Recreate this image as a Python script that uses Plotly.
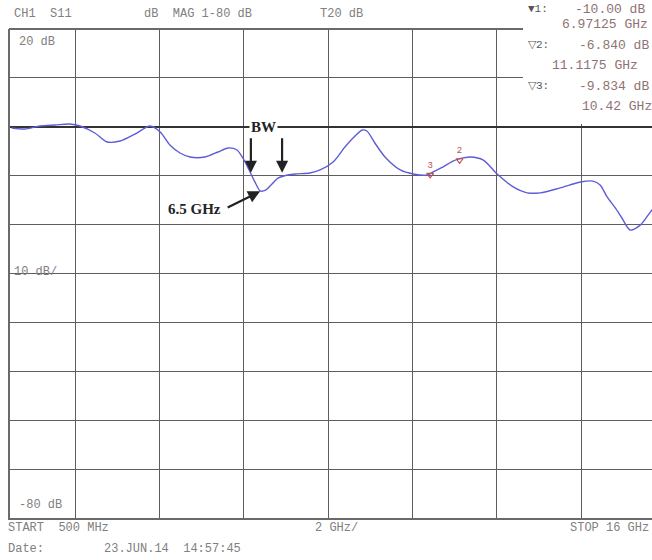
import plotly.graph_objects as go

# ---- data ----
freq_ghz = [0.5, 0.81, 1.17, 1.53, 1.88, 2.12, 2.47, 2.76, 3.07, 3.42, 3.78, 4.02, 4.25, 4.49,
            4.73, 5.08, 5.39, 5.63, 5.84, 5.98, 6.15, 6.29, 6.39, 6.53, 6.67, 6.81, 6.97,
            7.22, 7.57, 7.81, 8.12, 8.40, 8.64, 8.81, 8.92, 9.11, 9.35, 9.71, 10.02, 10.35,
            10.49, 10.73, 10.96, 11.13, 11.37, 11.68, 12.01, 12.39, 12.72, 13.03, 13.50,
            13.98, 14.28, 14.45, 14.62, 14.81, 14.97, 15.16, 15.40, 15.68, 16.0]
s11_db = [-0.25, -0.45, 0.16, 0.37, 0.57, 0.16, -1.27, -3.1, -2.9, -1.5, 0.16, -1.06, -3.72, -5.36,
          -6.18, -6.18, -5.15, -4.33, -4.74, -6.38, -9.24, -11.7, -13.1, -12.9, -11.7, -10.5, -10.0,
          -9.65, -9.45, -8.83, -7.2, -4.13, -1.88, -0.65, -0.86, -3.31, -6.18, -8.83, -9.65, -9.86,
          -9.24, -8.2, -7.0, -6.5, -6.18, -6.8, -9.65, -12.3, -13.5, -13.5, -12.5,
          -11.3, -11.1, -11.9, -14.4, -16.6, -18.7, -21.1, -20.1, -17.0, -14.0]

marker_names = ["2", "3"]
marker_freq = [11.1175, 10.42]
marker_db = [-6.84, -9.834]

grid_freq = [2, 4, 6, 8, 10, 12, 14]
x_range = [0.459, 15.68]
y_range = [-80, 20]

W, H = 652, 560
L, R, T, B = 10, 0, 29, 42
PW, PH = W - L - R, H - T - B

def px(xp):
    return (xp - L) / PW

def py(yp):
    return (H - B - yp) / PH

mono = "Liberation Mono"
gray = "#808080"

fig = go.Figure()
fig.add_trace(go.Scatter(x=freq_ghz, y=s11_db, mode="lines",
                         line=dict(color="#5d5dd8", width=1.4, shape="spline", smoothing=0.8),
                         hoverinfo="skip"))
fig.add_trace(go.Scatter(x=marker_freq, y=marker_db, mode="markers+text", text=marker_names,
                         textposition="top center", textfont=dict(family=mono, size=9, color="#c0504d"),
                         marker=dict(symbol="triangle-down-open", size=6, color="#c0504d",
                                     line=dict(width=1.2, color="#c0504d")),
                         hoverinfo="skip"))

shapes = [
    # white marker readout box hiding the grid at top right
    dict(type="rect", xref="paper", yref="paper", x0=px(523), x1=px(660), y0=py(124), y1=py(-5),
         fillcolor="white", line=dict(width=0), layer="above"),
    # top border
    dict(type="line", xref="paper", yref="paper", x0=px(9), x1=px(523), y0=1, y1=1,
         line=dict(color="#6a6a6a", width=2), layer="above"),
]

ann = []
def txt(x, y, s, size=12, color=gray, family=mono, xanchor="left", bg=None):
    d = dict(x=px(x), y=py(y), xref="paper", yref="paper", text=s, showarrow=False,
             xanchor=xanchor, yanchor="middle", font=dict(family=family, size=size, color=color))
    if bg:
        d["bgcolor"] = bg
    ann.append(d)

# header
txt(12, 14, "CH1  S11")
txt(142, 14, "dB  MAG 1-80 dB")
txt(318, 14, "T20 dB")
# left scale labels
txt(17, 42, "20 dB")
txt(12, 272, "10 dB/")
txt(17, 505, "-80 dB")
# bottom
txt(6, 528, "START  500 MHz")
txt(313, 528, "2 GHz/")
txt(568, 528, "STOP 16 GHz")
txt(6, 549, "Date:")
txt(102, 549, "23.JUN.14  14:57:45")
# marker readout
red_gray = "#8f7373"
rs = 13
txt(526, 9, "\u25bc1:", size=11, color="#555")
txt(573, 9, "-10.00 dB", size=rs, color=red_gray)
txt(560, 25, "6.97125 GHz", size=rs, color=red_gray)
txt(526, 45, "\u25bd2:", size=11, color="#555")
txt(577, 45, "-6.840 dB", size=rs, color=red_gray)
txt(550, 66, "11.1175 GHz", size=rs, color=red_gray)
txt(526, 86, "\u25bd3:", size=11, color="#555")
txt(577, 86, "-9.834 dB", size=rs, color=red_gray)
txt(580, 107, "10.42 GHz", size=rs, color=red_gray)

# BW label + arrows
ann.append(dict(x=6.48, y=0, xref="x", yref="y", text="<b>BW</b>", showarrow=False,
                xanchor="center", font=dict(family="Liberation Serif", size=15, color="#222"),
                bgcolor="white", borderpad=1))
for fx in [6.17, 6.91]:
    ann.append(dict(x=fx, y=-9.4, xref="x", yref="y", ax=0, ay=-36, text="", showarrow=True,
                    arrowhead=2, arrowsize=1.1, arrowwidth=2.2, arrowcolor="#222", standoff=0))
ann.append(dict(x=6.39, y=-13.2, xref="x", yref="y", ax=-34, ay=17, text="", showarrow=True,
                arrowhead=2, arrowsize=1.1, arrowwidth=2.2, arrowcolor="#222", standoff=0))
ann.append(dict(x=px(195), y=py(209), xref="paper", yref="paper", text="<b>6.5 GHz</b>",
                xanchor="center", yanchor="middle", showarrow=False,
                font=dict(family="Liberation Serif", size=15, color="#222")))

fig.update_layout(
    width=W, height=H, margin=dict(l=L, r=R, t=T, b=B),
    paper_bgcolor="white", plot_bgcolor="white", showlegend=False,
    xaxis=dict(range=x_range, tickvals=grid_freq, showticklabels=False, ticks="",
               showgrid=True, gridcolor="#5e5e5e", gridwidth=1, zeroline=False,
               showline=True, linecolor="#6a6a6a", linewidth=2),
    yaxis=dict(range=y_range, dtick=10, tick0=0, showticklabels=False, ticks="",
               showgrid=True, gridcolor="#5e5e5e", gridwidth=1,
               zeroline=True, zerolinecolor="#333", zerolinewidth=1.6,
               showline=True, linecolor="#6a6a6a", linewidth=2),
    shapes=shapes, annotations=ann,
)

fig.write_html("out.html")
